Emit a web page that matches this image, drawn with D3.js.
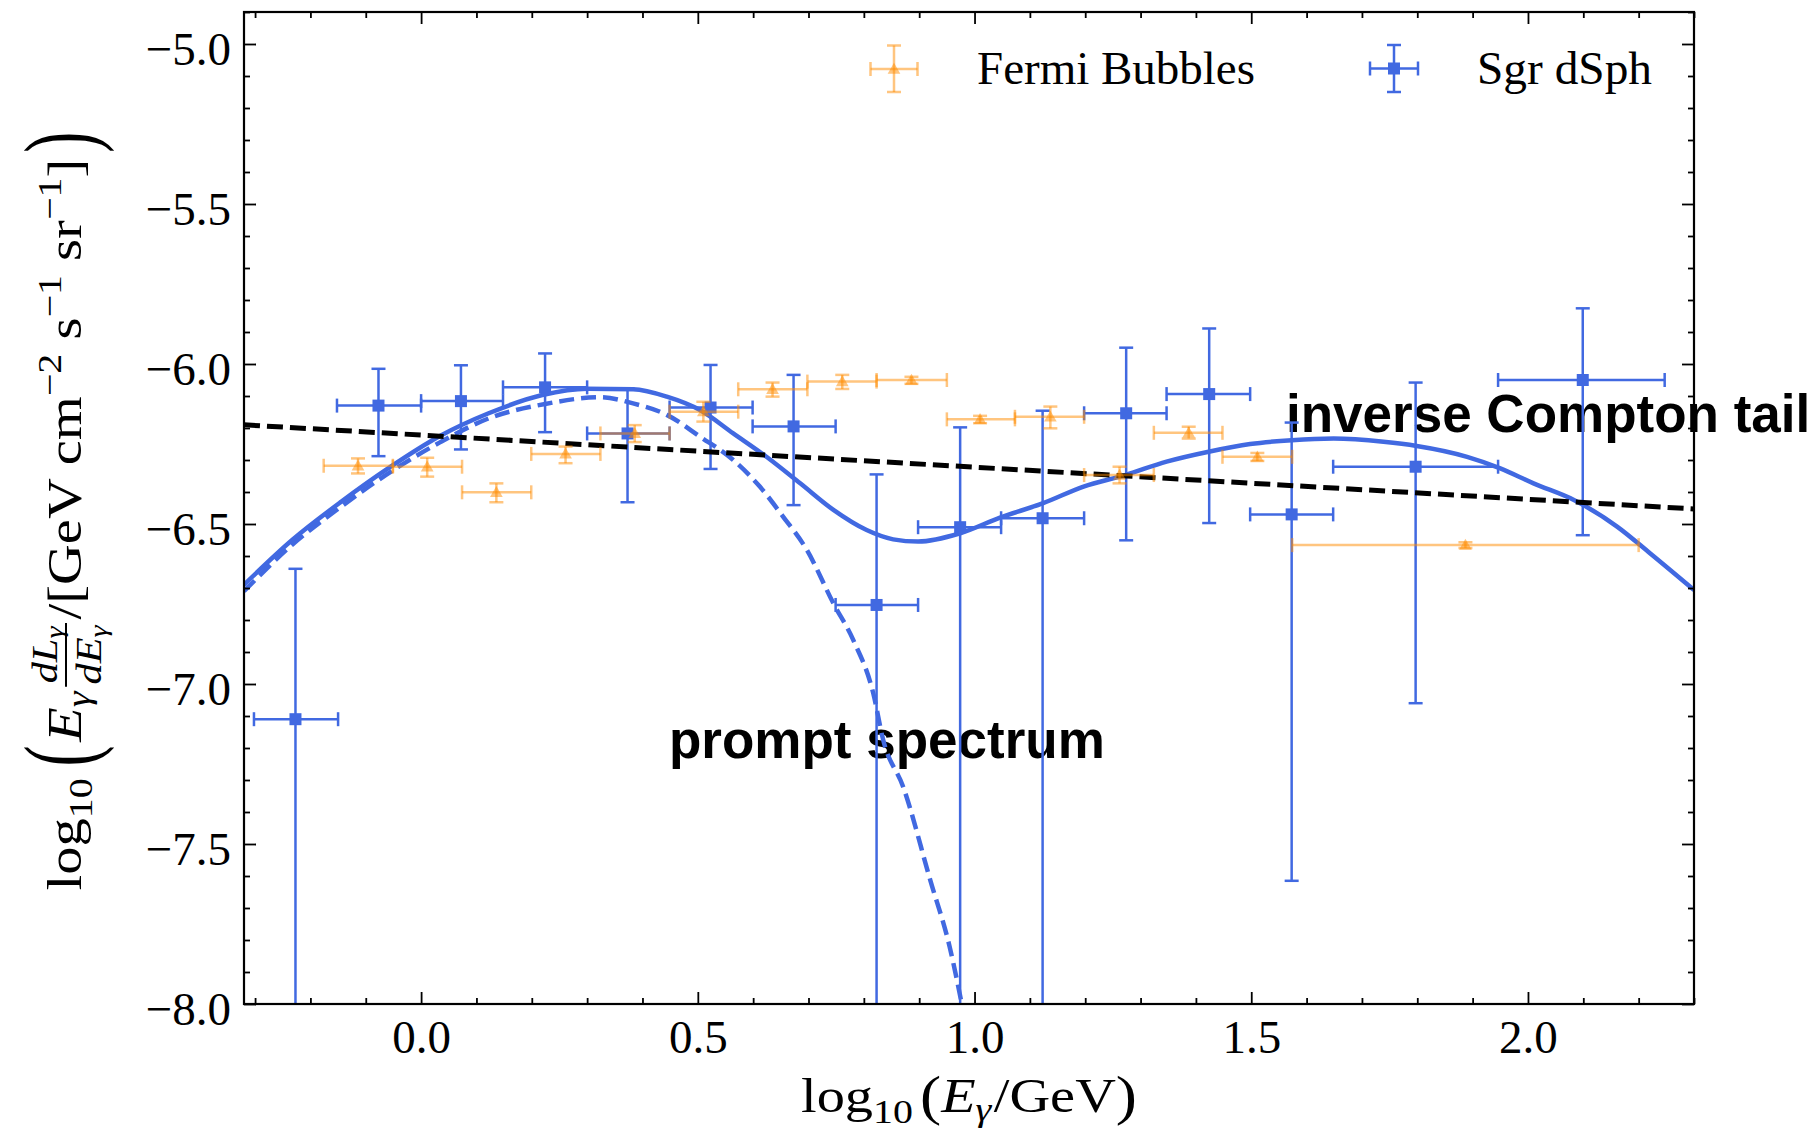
<!DOCTYPE html>
<html>
<head>
<meta charset="utf-8">
<script src="https://cdn.jsdelivr.net/npm/d3@7"></script>
<style>
  body { margin: 0; background: #fff; }
  svg { display: block; }
  text { white-space: pre; }
</style>
</head>
<body>
<div id="chart"></div>
<script>
// ---- Sgr dSph (blue squares) : log10 E, log10 flux, bin edges, error ends (null = below axis)
var sgrX   = [-0.227, -0.077, 0.072, 0.224, 0.373, 0.523, 0.673, 0.823, 0.974, 1.123, 1.274, 1.424, 1.573, 1.797, 2.099];
var sgrY   = [-7.110, -6.130, -6.116, -6.073, -6.217, -6.136, -6.195, -6.753, -6.510, -6.482, -6.154, -6.094, -6.470, -6.321, -6.050];
var sgrXLo = [-0.302, -0.152, 0.000, 0.148, 0.300, 0.449, 0.599, 0.749, 0.898, 1.048, 1.198, 1.347, 1.498, 1.648, 1.946];
var sgrXHi = [-0.150, 0.000, 0.148, 0.300, 0.449, 0.599, 0.749, 0.898, 1.048, 1.198, 1.347, 1.498, 1.648, 1.946, 2.247];
var sgrYLo = [null, -6.288, -6.267, -6.213, -6.432, -6.328, -6.441, null, null, null, -6.551, -6.497, -7.615, -7.060, -6.535];
var sgrYHi = [-6.640, -6.015, -6.004, -5.967, -6.076, -6.003, -6.034, -6.345, -6.198, -6.146, -5.949, -5.889, -6.183, -6.058, -5.826];

// ---- Fermi Bubbles (orange triangles)
var fbX   = [-0.114, 0.011, 0.136, 0.261, 0.386, 0.510, 0.635, 0.761, 0.886, 1.010, 1.137, 1.262, 1.387, 1.511, 1.887];
var fbY   = [-6.318, -6.321, -6.401, -6.281, -6.217, -6.149, -6.079, -6.055, -6.050, -6.173, -6.165, -6.347, -6.215, -6.290, -6.566];
var fbXLo = [-0.176, -0.051, 0.074, 0.199, 0.324, 0.449, 0.573, 0.698, 0.823, 0.950, 1.073, 1.198, 1.324, 1.448, 1.574];
var fbXHi = [-0.051, 0.074, 0.199, 0.324, 0.449, 0.573, 0.698, 0.823, 0.950, 1.073, 1.198, 1.324, 1.448, 1.574, 2.200];
var fbYLo = [-6.342, -6.352, -6.432, -6.310, -6.244, -6.180, -6.102, -6.078, -6.062, -6.185, -6.201, -6.373, -6.233, -6.303, -6.575];
var fbYHi = [-6.295, -6.293, -6.373, -6.258, -6.191, -6.118, -6.058, -6.034, -6.040, -6.162, -6.133, -6.321, -6.196, -6.278, -6.557];

// ---- model curves
var totX = [-0.32, -0.233, -0.144, -0.055, 0.034, 0.122, 0.219, 0.300, 0.383, 0.444, 0.504, 0.564, 0.624, 0.685, 0.745, 0.805, 0.853, 0.898, 0.974, 1.046, 1.124, 1.197, 1.272, 1.347, 1.423, 1.498, 1.573, 1.649, 1.739, 1.799, 1.890, 1.950, 2.010, 2.083, 2.161, 2.221, 2.300];
var totY = [-6.690, -6.550, -6.430, -6.321, -6.225, -6.154, -6.097, -6.077, -6.079, -6.102, -6.144, -6.217, -6.290, -6.373, -6.456, -6.519, -6.548, -6.555, -6.529, -6.480, -6.435, -6.383, -6.347, -6.305, -6.274, -6.250, -6.238, -6.233, -6.243, -6.256, -6.290, -6.326, -6.373, -6.425, -6.508, -6.592, -6.706];
var promptX = [-0.32, -0.233, -0.144, -0.055, 0.034, 0.122, 0.224, 0.323, 0.383, 0.444, 0.504, 0.564, 0.612, 0.654, 0.697, 0.745, 0.781, 0.817, 0.835, 0.871, 0.920, 0.955, 0.977];
var promptY = [-6.710, -6.565, -6.445, -6.337, -6.245, -6.170, -6.125, -6.104, -6.123, -6.159, -6.227, -6.300, -6.383, -6.477, -6.581, -6.748, -6.863, -7.029, -7.175, -7.321, -7.613, -7.821, -8.000];
var icX = [-0.32, 2.30];
var icY = [-6.190, -6.453];

// ---- ticks and labels
var xMajor = [0, 0.5, 1.0, 1.5, 2.0];
var yMajor = [-8.0, -7.5, -7.0, -6.5, -6.0, -5.5, -5.0];
var legendLabels = ["Fermi Bubbles", "Sgr dSph"];

var blue = "#4169e1";
var orange = "#ff8c00";
var serif = "'Liberation Serif', 'DejaVu Serif', serif";
var sans = "'Liberation Sans', Arial, Helvetica, sans-serif";

var svg = d3.select("#chart").append("svg")
  .attr("width", 1818)
  .attr("height", 1129);

var margin = {top: 12, right: 124, bottom: 125, left: 244};
var width = 1818 - margin.left - margin.right;
var height = 1129 - margin.top - margin.bottom;

var x = d3.scaleLinear().domain([-0.32, 2.3]).range([0, width]);
var y = d3.scaleLinear().domain([-8.0, -4.9]).range([height, 0]);

svg.append("defs").append("clipPath").attr("id", "plotclip")
  .append("rect").attr("width", width).attr("height", height);

// annotations sit under the data
svg.append("text").attr("x", 1286).attr("y", 432)
  .attr("font-family", sans).attr("font-weight", "bold").attr("font-size", 53)
  .text("inverse Compton tail");
svg.append("text").attr("x", 669).attr("y", 758)
  .attr("font-family", sans).attr("font-weight", "bold").attr("font-size", 53)
  .text("prompt spectrum");

var g = svg.append("g").attr("transform", "translate(" + margin.left + "," + margin.top + ")");
var plot = g.append("g").attr("clip-path", "url(#plotclip)");

var cap = 7;

// blue error bars
var sgr = sgrX.map(function(v, i) {
  return {x: v, y: sgrY[i], xlo: sgrXLo[i], xhi: sgrXHi[i], ylo: sgrYLo[i], yhi: sgrYHi[i]};
});
var bg = plot.append("g").attr("stroke", blue).attr("stroke-width", 2.5);
sgr.forEach(function(d) {
  var cx = x(d.x), cy = y(d.y);
  var yl = d.ylo === null ? height + 5 : y(d.ylo);
  bg.append("line").attr("x1", x(d.xlo)).attr("x2", x(d.xhi)).attr("y1", cy).attr("y2", cy);
  bg.append("line").attr("x1", cx).attr("x2", cx).attr("y1", y(d.yhi)).attr("y2", yl);
  [d.xlo, d.xhi].forEach(function(e) {
    bg.append("line").attr("x1", x(e)).attr("x2", x(e)).attr("y1", cy - cap).attr("y2", cy + cap);
  });
  bg.append("line").attr("x1", cx - cap).attr("x2", cx + cap).attr("y1", y(d.yhi)).attr("y2", y(d.yhi));
  if (d.ylo !== null) {
    bg.append("line").attr("x1", cx - cap).attr("x2", cx + cap).attr("y1", yl).attr("y2", yl);
  }
  bg.append("rect").attr("x", cx - 6).attr("y", cy - 6).attr("width", 12).attr("height", 12)
    .attr("fill", blue).attr("stroke", "none");
});

// model curves
var line = d3.line()
  .x(function(d) { return x(d[0]); })
  .y(function(d) { return y(d[1]); })
  .curve(d3.curveMonotoneX);

plot.append("path")
  .datum(totX.map(function(v, i) { return [v, totY[i]]; }))
  .attr("fill", "none").attr("stroke", blue).attr("stroke-width", 4.5)
  .attr("d", line);

plot.append("path")
  .datum(promptX.map(function(v, i) { return [v, promptY[i]]; }))
  .attr("fill", "none").attr("stroke", blue).attr("stroke-width", 4.5)
  .attr("stroke-dasharray", "15 7")
  .attr("d", line);

plot.append("path")
  .datum(icX.map(function(v, i) { return [v, icY[i]]; }))
  .attr("fill", "none").attr("stroke", "#000").attr("stroke-width", 5)
  .attr("stroke-dasharray", "16 7")
  .attr("d", line);

// orange error bars (semi transparent, drawn last)
var tri = d3.symbol().type(d3.symbolTriangle).size(70);
var og = plot.append("g");
function orangeBar(parent, cx, cy, x1, x2, y1, y2) {
  var s = function(sel) { return sel.attr("stroke", orange).attr("stroke-width", 2.5).attr("stroke-opacity", 0.5); };
  s(parent.append("line").attr("x1", x1).attr("x2", x2).attr("y1", cy).attr("y2", cy));
  s(parent.append("line").attr("x1", cx).attr("x2", cx).attr("y1", y1).attr("y2", y2));
  [x1, x2].forEach(function(e) {
    s(parent.append("line").attr("x1", e).attr("x2", e).attr("y1", cy - cap).attr("y2", cy + cap));
  });
  [y1, y2].forEach(function(e) {
    s(parent.append("line").attr("x1", cx - cap).attr("x2", cx + cap).attr("y1", e).attr("y2", e));
  });
  parent.append("path").attr("d", tri).attr("transform", "translate(" + cx + "," + (cy + 1) + ")")
    .attr("fill", orange).attr("fill-opacity", 0.5);
}
fbX.forEach(function(v, i) {
  orangeBar(og, x(v), y(fbY[i]), x(fbXLo[i]), x(fbXHi[i]), y(fbYLo[i]), y(fbYHi[i]));
});

// axes: ticks inward on all four sides
function styleAxis(sel) {
  sel.select(".domain").remove();
  sel.selectAll("line").attr("stroke", "#000").attr("stroke-width", 1.8);
  sel.selectAll("text").attr("font-family", serif).attr("font-size", 47).attr("fill", "#000");
}
var xMinor = d3.range(-3, 24).map(function(i) { return i / 10; })
  .filter(function(v) { return xMajor.indexOf(v) < 0; });
var yMinor = d3.range(-80, -48).map(function(i) { return i / 10; })
  .filter(function(v) { return yMajor.indexOf(v) < 0; });
var fmt = d3.format(".1f");

g.append("g").attr("transform", "translate(0," + height + ")")
  .call(d3.axisBottom(x).tickValues(xMajor).tickSize(-12).tickPadding(16).tickFormat(fmt)).call(styleAxis);
g.append("g").attr("transform", "translate(0," + height + ")")
  .call(d3.axisBottom(x).tickValues(xMinor).tickSize(-6).tickFormat("")).call(styleAxis);
g.append("g")
  .call(d3.axisTop(x).tickValues(xMajor).tickSize(-12).tickFormat("")).call(styleAxis);
g.append("g")
  .call(d3.axisTop(x).tickValues(xMinor).tickSize(-6).tickFormat("")).call(styleAxis);

var yAxisG = g.append("g")
  .call(d3.axisLeft(y).tickValues(yMajor).tickSize(-12).tickPadding(13).tickFormat(fmt)).call(styleAxis);
yAxisG.selectAll("text").attr("dy", "0.43em");
g.append("g")
  .call(d3.axisLeft(y).tickValues(yMinor).tickSize(-6).tickFormat("")).call(styleAxis);
g.append("g").attr("transform", "translate(" + width + ",0)")
  .call(d3.axisRight(y).tickValues(yMajor).tickSize(-12).tickFormat("")).call(styleAxis);
g.append("g").attr("transform", "translate(" + width + ",0)")
  .call(d3.axisRight(y).tickValues(yMinor).tickSize(-6).tickFormat("")).call(styleAxis);

g.append("rect").attr("width", width).attr("height", height)
  .attr("fill", "none").attr("stroke", "#000").attr("stroke-width", 2.2);

// math-ish labels built from text runs
function run(parent, x0, y0, pieces) {
  var t = parent.append("text").attr("x", x0).attr("y", y0)
    .attr("font-family", serif).attr("fill", "#000");
  var shift = 0;
  pieces.forEach(function(p) {
    var dy = p.dy || 0;
    t.append("tspan").attr("dy", dy - shift).attr("font-size", p.size)
      .attr("font-style", p.it ? "italic" : "normal").text(p.t);
    shift = dy;
  });
  return x0 + t.node().getComputedTextLength();
}
// tall, thin bracket: a normal glyph stretched across the line
function bigParen(parent, x0, ch) {
  var pg = parent.append("g").attr("transform", "translate(" + x0 + ",12) scale(1,1.85)");
  return run(pg, 0, 0, [{t: ch, size: 54}]) + x0;
}

// y label (rotated)
var yl = svg.append("g");
var c = run(yl, 0, 0, [{t: "log", size: 48}, {t: "10", size: 34, dy: 11}]);
c = bigParen(yl, c + 10, "(");
c = run(yl, c + 3, 0, [{t: "E", size: 48, it: true}, {t: "\u03b3", size: 34, dy: 9, it: true}]);
var fx = c + 4;
var numT = yl.append("g"), denT = yl.append("g");
var nw = run(numT, 0, -24, [{t: "dL", size: 36, it: true}, {t: "\u03b3", size: 26, dy: 6, it: true}]);
var dw = run(denT, 0, 20, [{t: "dE", size: 36, it: true}, {t: "\u03b3", size: 26, dy: 6, it: true}]);
var fw = Math.max(nw, dw) + 4;
numT.attr("transform", "translate(" + (fx + (fw - nw) / 2) + ",0)");
denT.attr("transform", "translate(" + (fx + (fw - dw) / 2) + ",0)");
yl.append("line").attr("x1", fx).attr("x2", fx + fw).attr("y1", -15).attr("y2", -15)
  .attr("stroke", "#000").attr("stroke-width", 2);
c = run(yl, fx + fw + 3, 0, [
  {t: "/[GeV cm", size: 48}, {t: "\u22122", size: 34, dy: -20},
  {t: " s", size: 48}, {t: "\u22121", size: 34, dy: -20},
  {t: " sr", size: 48}, {t: "\u22121", size: 34, dy: -20},
  {t: "]", size: 48}
]);
c = bigParen(yl, c + 5, ")");
var ys = 759 / c;
yl.attr("transform", "translate(81,511) rotate(-90) scale(" + ys + ",1) translate(" + (-c / 2) + ",0)");

// x label
var xl = svg.append("g");
var xc = run(xl, 0, 0, [{t: "log", size: 48}, {t: "10", size: 34, dy: 11}]);
xc = run(xl, xc + 6, 0, [{t: "(", size: 54, dy: 2}]);
xc = run(xl, xc, 0, [{t: "E", size: 48, it: true}, {t: "\u03b3", size: 34, dy: 9, it: true}]);
xc = run(xl, xc + 2, 0, [{t: "/GeV", size: 48}, {t: ")", size: 54, dy: 2}]);
var xs = 336 / xc;
xl.attr("transform", "translate(969,1112) scale(" + xs + ",1) translate(" + (-xc / 2) + ",0)");

// legend
var leg = svg.append("g");
orangeBar(leg, 894, 69, 870.5, 917.5, 45.5, 92);
leg.append("text").attr("x", 977).attr("y", 84).attr("font-family", serif).attr("font-size", 46)
  .attr("textLength", 278).attr("lengthAdjust", "spacingAndGlyphs")
  .text(legendLabels[0]);
var lb = leg.append("g").attr("stroke", blue).attr("stroke-width", 2.5);
lb.append("line").attr("x1", 1370).attr("x2", 1418).attr("y1", 68.5).attr("y2", 68.5);
lb.append("line").attr("x1", 1394).attr("x2", 1394).attr("y1", 45).attr("y2", 92);
lb.append("line").attr("x1", 1370).attr("x2", 1370).attr("y1", 61.5).attr("y2", 75.5);
lb.append("line").attr("x1", 1418).attr("x2", 1418).attr("y1", 61.5).attr("y2", 75.5);
lb.append("line").attr("x1", 1387).attr("x2", 1401).attr("y1", 45).attr("y2", 45);
lb.append("line").attr("x1", 1387).attr("x2", 1401).attr("y1", 92).attr("y2", 92);
lb.append("rect").attr("x", 1388).attr("y", 62.5).attr("width", 12).attr("height", 12)
  .attr("fill", blue).attr("stroke", "none");
leg.append("text").attr("x", 1477).attr("y", 84).attr("font-family", serif).attr("font-size", 46)
  .attr("textLength", 175).attr("lengthAdjust", "spacingAndGlyphs")
  .text(legendLabels[1]);
</script>
</body>
</html>
